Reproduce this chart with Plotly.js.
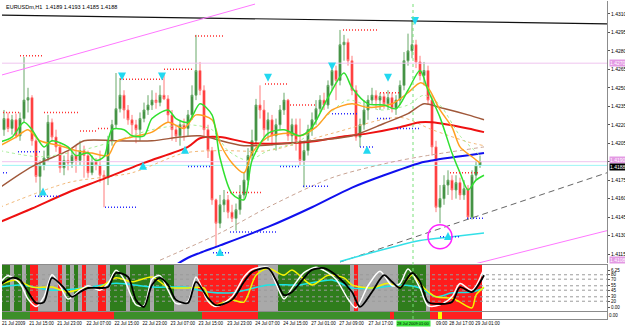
<!DOCTYPE html>
<html><head><meta charset="utf-8">
<script src="https://cdn.plot.ly/plotly-3.0.1.min.js"></script>
<style>html,body{margin:0;padding:0;background:#fff;}#chart{width:625px;height:327px;}</style>
</head><body><div id="chart"></div>
<script>
// ---------- OHLC (H1 bars) ----------
const openP = [1.4216,1.4225,1.4217,1.4224,1.4211,1.4225,1.4240,1.4242,1.4207,1.4178,
1.4187,1.4193,1.4222,1.4210,1.4202,1.4185,1.4191,1.4189,1.4195,1.4191,
1.4199,1.4195,1.4181,1.4190,1.4187,1.4179,1.4177,1.4207,1.4220,1.4233,
1.4244,1.4232,1.4224,1.4220,1.4216,1.4225,1.4232,1.4236,1.4240,1.4238,
1.4244,1.4241,1.4228,1.4216,1.4211,1.4220,1.4217,1.4228,1.4244,1.4264,
1.4248,1.4216,1.4199,1.4159,1.4140,1.4155,1.4159,1.4149,1.4144,1.4151,
1.4163,1.4175,1.4195,1.4207,1.4236,1.4232,1.4216,1.4224,1.4211,1.4220,
1.4232,1.4240,1.4211,1.4220,1.4207,1.4191,1.4199,1.4216,1.4224,1.4233,
1.4240,1.4236,1.4252,1.4264,1.4256,1.4285,1.4287,1.4272,1.4248,1.4210,
1.4220,1.4232,1.4240,1.4244,1.4240,1.4243,1.4237,1.4242,1.4233,1.4240,
1.4252,1.4272,1.4280,1.4285,1.4271,1.4260,1.4264,1.4240,1.4202,1.4153,
1.4160,1.4171,1.4175,1.4167,1.4173,1.4163,1.4168,1.4145,1.4179,1.4187];
const highP = [1.4232,1.4230,1.4228,1.4229,1.4230,1.4275,1.4250,1.4244,1.4209,1.4191,
1.4199,1.4228,1.4225,1.4216,1.4205,1.4195,1.4199,1.4201,1.4203,1.4207,
1.4203,1.4199,1.4195,1.4193,1.4199,1.4183,1.4211,1.4224,1.4262,1.4258,
1.4248,1.4236,1.4228,1.4224,1.4230,1.4238,1.4244,1.4248,1.4246,1.4252,
1.4262,1.4244,1.4232,1.4220,1.4224,1.4225,1.4232,1.4252,1.4293,1.4271,
1.4252,1.4220,1.4202,1.4160,1.4163,1.4167,1.4163,1.4155,1.4156,1.4171,
1.4181,1.4201,1.4216,1.4241,1.4252,1.4240,1.4230,1.4228,1.4225,1.4236,
1.4246,1.4241,1.4225,1.4225,1.4225,1.4207,1.4220,1.4230,1.4240,1.4244,
1.4246,1.4256,1.4270,1.4268,1.4297,1.4293,1.4290,1.4276,1.4252,1.4225,
1.4240,1.4244,1.4250,1.4248,1.4246,1.4246,1.4248,1.4246,1.4244,1.4256,
1.4279,1.4294,1.4305,1.4289,1.4276,1.4271,1.4268,1.4244,1.4207,1.4171,
1.4179,1.4183,1.4179,1.4179,1.4177,1.4175,1.4171,1.4183,1.4191,1.4195];
const lowP = [1.4211,1.4214,1.4212,1.4209,1.4207,1.4222,1.4230,1.4203,1.4173,1.4161,
1.4183,1.4190,1.4206,1.4198,1.4181,1.4179,1.4183,1.4185,1.4181,1.4187,
1.4177,1.4177,1.4179,1.4183,1.4173,1.4153,1.4171,1.4203,1.4217,1.4230,
1.4225,1.4220,1.4211,1.4205,1.4207,1.4222,1.4228,1.4232,1.4233,1.4235,
1.4240,1.4222,1.4207,1.4206,1.4203,1.4207,1.4211,1.4224,1.4240,1.4244,
1.4211,1.4193,1.4155,1.4121,1.4136,1.4149,1.4144,1.4141,1.4134,1.4147,
1.4159,1.4171,1.4191,1.4203,1.4225,1.4210,1.4207,1.4203,1.4199,1.4216,
1.4228,1.4207,1.4203,1.4199,1.4187,1.4169,1.4195,1.4211,1.4220,1.4230,
1.4232,1.4233,1.4248,1.4240,1.4252,1.4272,1.4268,1.4244,1.4207,1.4202,
1.4216,1.4224,1.4236,1.4233,1.4232,1.4233,1.4232,1.4230,1.4228,1.4236,
1.4248,1.4268,1.4274,1.4266,1.4256,1.4252,1.4236,1.4195,1.4149,1.4140,
1.4155,1.4163,1.4159,1.4160,1.4159,1.4159,1.4143,1.4143,1.4175,1.4185];
const closeP = [1.4225,1.4217,1.4224,1.4211,1.4225,1.4240,1.4242,1.4207,1.4178,1.4187,
1.4193,1.4222,1.4210,1.4202,1.4185,1.4191,1.4189,1.4195,1.4191,1.4199,
1.4195,1.4181,1.4190,1.4187,1.4179,1.4177,1.4207,1.4220,1.4233,1.4244,
1.4232,1.4224,1.4220,1.4216,1.4225,1.4232,1.4236,1.4240,1.4238,1.4244,
1.4241,1.4228,1.4216,1.4211,1.4220,1.4217,1.4228,1.4244,1.4264,1.4248,
1.4216,1.4199,1.4159,1.4140,1.4155,1.4159,1.4149,1.4144,1.4151,1.4163,
1.4175,1.4195,1.4207,1.4236,1.4232,1.4216,1.4224,1.4211,1.4220,1.4232,
1.4240,1.4211,1.4220,1.4207,1.4191,1.4199,1.4216,1.4224,1.4233,1.4240,
1.4236,1.4252,1.4264,1.4256,1.4285,1.4287,1.4272,1.4248,1.4210,1.4220,
1.4232,1.4240,1.4244,1.4240,1.4243,1.4237,1.4242,1.4233,1.4240,1.4252,
1.4272,1.4280,1.4285,1.4271,1.4260,1.4264,1.4240,1.4202,1.4153,1.4160,
1.4171,1.4175,1.4167,1.4173,1.4163,1.4168,1.4145,1.4179,1.4187,1.4190];

// ---------- moving averages ----------
const redIdx = [-1,7,16,24,35,46,49,54,62,76,84,91,99,104,107,116,120];
const redVal = [1.4141,1.4152,1.4165,1.4175,1.4189,1.4202,1.4209,1.4210,1.4205,1.4206,1.4210,1.4213,1.4218,1.4222,1.4222,1.4217,1.4214];
const brownIdx = [-1,7,16,20,28,37,44,49,60,74,87,95,101,105,109,116,120];
const brownVal = [1.4169,1.4186,1.4199,1.4207,1.4207,1.4207,1.4210,1.4211,1.4203,1.4206,1.4211,1.4221,1.4229,1.4237,1.4234,1.4228,1.4224];
const blueIdx = [40,46,49,54,66,77,87,95,104,107,120];
const blueVal = [1.4100,1.4112,1.4116,1.4122,1.4137,1.4153,1.4169,1.4179,1.4189,1.4191,1.4197];
const orangeIdx = [-1,3,6,9,14,18,22,26,28,32,37,41,45,48,52,54,57,60,62,66,71,74,78,82,87,91,97,101,104,106,109,112,114,117,119];
const orangeVal = [1.4203,1.4210,1.4216,1.4207,1.4203,1.4199,1.4197,1.4195,1.4206,1.4210,1.4214,1.4222,1.4217,1.4228,1.4224,1.4205,1.4189,1.4181,1.4197,1.4210,1.4213,1.4211,1.4218,1.4232,1.4237,1.4234,1.4237,1.4246,1.4254,1.4250,1.4232,1.4218,1.4202,1.4194,1.4189];
const greenIdx = [-1,2,5,7,10,12,16,18,21,23,25,27,30,32,35,37,41,43,46,49,52,54,57,60,62,66,70,74,77,81,85,87,91,95,98,101,104,106,109,112,114,116,118,120];
const greenVal = [1.4206,1.4210,1.4222,1.4216,1.4202,1.4207,1.4202,1.4195,1.4197,1.4191,1.4194,1.4216,1.4216,1.4211,1.4211,1.4225,1.4232,1.4225,1.4222,1.4237,1.4228,1.4193,1.4164,1.4159,1.4191,1.4213,1.4216,1.4211,1.4218,1.4242,1.4262,1.4250,1.4237,1.4236,1.4233,1.4248,1.4264,1.4248,1.4226,1.4197,1.4181,1.4167,1.4175,1.4179];
const limeIdx = [-1,9,19,27,37,46,52,56,61,66,74,81,86,94,101,105,109,114,119];
const limeVal = [1.4199,1.4194,1.4199,1.4206,1.4216,1.4220,1.4216,1.4199,1.4191,1.4199,1.4207,1.4228,1.4240,1.4232,1.4236,1.4244,1.4236,1.4211,1.4195];
const tanIdx = [-1,16,32,45,54,66,82,99,107,116,120];
const tanVal = [1.4153,1.4173,1.4181,1.4197,1.4199,1.4199,1.4213,1.4226,1.4216,1.4206,1.4203];
const rosyIdx = [39,54,66,82,96,104,120];
const rosyVal = [1.4110,1.4132,1.4153,1.4177,1.4189,1.4194,1.4202];

// ---------- drawn lines ----------
const grayTrendIdx = [84,150.75];  const grayTrendVal = [1.41085,1.4181];
const cyanLineIdx = [84,104,112,120]; const cyanLineVal = [1.4109,1.4126,1.4129,1.4132];
const pinkTopIdx = [-1,62.75];     const pinkTopVal = [1.4260,1.4318];
const pinkBotIdx = [116.5,150.75]; const pinkBotVal = [1.4106,1.4134];
const blackTopIdx = [-1,150.75];   const blackTopVal = [1.4309,1.4302];
const hLevelVal = [1.4270,1.4190,1.4187];
const hLevelColor = ['#efc4ef','#efc4ef','#9ff5f5'];

// ---------- fractal levels ----------
const redFracStart = [-0.25,4,10,19,23.5,29,40,47.75,55.75,65.25,71.5,84.75,94,111.5];
const redFracEnd   = [4,9.75,18.5,23.25,26.5,39.75,47.25,55.25,64.75,71,78.25,93.25,99,119];
const redFracPrice = [1.4230,1.4276,1.4230,1.4215,1.4217,1.4257,1.4265,1.4292,1.4165,1.4253,1.4236,1.4297,1.4246,1.4181];
const blueFracStart = [-1,3.5,7.75,25.25,46,52.25,56.5,69,74.75,82,89,93.25,98.25,109,115.75];
const blueFracEnd   = [0.75,9,14.5,33.5,52,56.5,68.5,74,81.5,88.25,92.25,97,104,114,119.75];
const blueFracPrice = [1.4181,1.4198,1.4162,1.4153,1.4186,1.4116,1.4133,1.4186,1.4170,1.4229,1.4202,1.4225,1.4217,1.4129,1.4144];

// ---------- arrows ----------
const upArrIdx = [9.75,34.75,45.25,54,90.75,111];
const upArrVal = [1.4169,1.4190,1.4203,1.4120,1.4203,1.4133];
const dnArrIdx = [29.5,39.5,66,82,96,102.75];
const dnArrVal = [1.4256,1.4256,1.4255,1.4264,1.4255,1.4301];
const circleIdx = [109]; const circleVal = [1.4129];

// ---------- oscillator panel ----------
const panelState = "ggsggsgrrsssssrsgsgsrsssrrsggggsgggggsgggggssssssrrrrrrrrrrrrrrrsssssggggggggggggggggggsrssssssssssgggggggsrrrrrrrrrrrrr".split("");
const stripState = "gggggggrrrrrrrrrrrrrrrrrrrrrggggggggggggggggggggggrrrrrrrrrrrrrrgggggggggggggggggggggggggggggggggrgggggggggrryrrrrrrrrrr".split("");
const oscBlackIdx = [-1,2,4,6,8,10,12,15,17,19,21,24,26,28,31,33,35,37,39,41,43,46,48,51,53,57,60,62,66,68,70,72,75,77,80,83,87,89,92,95,97,99,102,104,106,108,112,114,117,120];
const oscBlackVal = [57,73,68,41,16,18,73,50,30,41,50,50,52,84,75,23,7,57,73,57,23,16,64,27,11,23,64,86,95,68,34,41,73,91,95,79,41,7,41,79,64,50,84,64,18,14,18,52,41,79];
const oscWhiteIdx = [-1,1,4,6,8,10,12,14,16,19,21,24,26,28,30,33,35,37,39,41,43,46,48,51,53,57,60,62,66,68,70,72,75,78,80,83,86,88,91,94,97,99,101,104,106,109,112,114,117,120];
const oscWhiteVal = [62,78,60,25,8,30,80,55,25,45,55,45,60,90,70,12,10,70,78,45,15,20,75,20,8,30,75,92,97,60,25,50,85,97,90,70,25,5,55,88,55,60,93,50,10,12,30,60,45,95];
const oscYellowIdx = [-1,3,7,12,16,20,24,28,32,37,41,46,50,52,57,60,63,66,70,72,77,81,85,87,92,96,99,102,105,108,112,114,117,118,120];
const oscYellowVal = [57,68,52,52,41,50,52,73,64,75,52,50,50,11,23,18,79,95,79,91,57,79,73,57,50,61,52,79,50,30,27,18,5,34,52];
const oscCyanIdx = [-1,4,12,20,28,37,45,51,57,66,74,82,87,93,99,104,108,112,117,120];
const oscCyanVal = [52,57,45,50,61,52,52,41,39,57,57,68,50,50,57,50,30,39,41,50];
const oscLevels = [80,70,55,45,30,20];
const oscTickVal = [90,80,70,55,45,30,20,5];
const oscTickText = ['6.25','80','70','55','45','30','20','0.00'];

// ---------- axis labels ----------
const priceTicks = [1.4115,1.4130,1.4145,1.4160,1.4175,1.4190,1.4205,1.4220,1.4235,1.4250,1.4265,1.4280,1.4295,1.4310];
const dateIdx = [2.4,9.4,16.4,23.7,30.7,37.7,44.7,51.7,58.9,65.9,72.9,79.9,86.9,94.2,109.4,114.4,120.9];
const dateText = ['21 Jul 2009','21 Jul 15:00','21 Jul 23:00','22 Jul 07:00','22 Jul 15:00','22 Jul 23:00','23 Jul 07:00','23 Jul 15:00','23 Jul 23:00','24 Jul 07:00','24 Jul 15:00','27 Jul 01:00','27 Jul 09:00','27 Jul 17:00','09:00','28 Jul 17:00','29 Jul 01:00'];
const titleText = 'EURUSDm,H1  1.4189 1.4193 1.4185 1.4188';

// ================= build =================
const barIdx = closeP.map((_, i) => i);
const stateColor = {g:'#2f7d1c', s:'#a9a9a9', r:'#ff1c1c', y:'#ffff00'};
const stripColor = {g:'#3d8f2a', r:'#ff2020', y:'#ffff00'};

function line(x, y, color, width, dash, shape, xa, ya) {
  return {type:'scatter', mode:'lines', x:x, y:y, xaxis:xa||'x', yaxis:ya||'y',
    line:{color:color, width:width, dash:dash||'solid', shape:shape||'linear', smoothing:0.8},
    hoverinfo:'skip'};
}
function segs(s, e, p) {
  const x = [], y = [];
  for (let k = 0; k < s.length; k++) { x.push(s[k], e[k], null); y.push(p[k], p[k], null); }
  return {x, y};
}

const traces = [];
// oscillator background stripes
traces.push({type:'bar', x:barIdx, y:barIdx.map(() => 104.6), base:-2.3, xaxis:'x2', yaxis:'y2',
  marker:{color:panelState.map(s => stateColor[s]), line:{width:0}}, width:0.82, hoverinfo:'skip'});
oscLevels.forEach(v => traces.push(line([-1,151],[v,v],'#9a9a9a',1,'dot','linear','x2','y2')));
traces.push(line(oscCyanIdx, oscCyanVal, '#19e6e6', 1.5, 'solid', 'spline', 'x2', 'y2'));
traces.push(line(oscYellowIdx, oscYellowVal, '#f5f500', 1.5, 'solid', 'spline', 'x2', 'y2'));
traces.push(line(oscWhiteIdx, oscWhiteVal, '#ffffff', 1.5, 'solid', 'spline', 'x2', 'y2'));
traces.push(line(oscBlackIdx, oscBlackVal, '#000000', 1.8, 'solid', 'spline', 'x2', 'y2'));
// bottom strip
traces.push({type:'bar', x:barIdx, y:barIdx.map(() => 1), xaxis:'x3', yaxis:'y3',
  marker:{color:stripState.map(s => stripColor[s]), line:{width:0}}, width:0.82, hoverinfo:'skip'});

// main panel: horizontal levels and drawn lines
hLevelVal.forEach((v, k) => traces.push(line([-1,151],[v,v],hLevelColor[k],1)));
traces.push(line(blackTopIdx, blackTopVal, '#111111', 1.2));
traces.push(line(pinkTopIdx, pinkTopVal, '#ff77ff', 1));
traces.push(line(pinkBotIdx, pinkBotVal, '#ff77ff', 1));
traces.push(line(grayTrendIdx, grayTrendVal, '#666666', 1, '6px,4px'));
traces.push(line(cyanLineIdx, cyanLineVal, '#33e0e8', 1.5, 'solid', 'spline'));

// candles
traces.push({type:'candlestick', x:barIdx, open:openP, high:highP, low:lowP, close:closeP,
  xaxis:'x', yaxis:'y', whiskerwidth:0,
  increasing:{line:{color:'#68a868', width:1}, fillcolor:'#1c7a1c'},
  decreasing:{line:{color:'#ff7a7a', width:1}, fillcolor:'#ff0000'},
  hoverinfo:'skip'});

// moving averages
traces.push(line(rosyIdx, rosyVal, '#c9a494', 1, '4px,3px', 'spline'));
traces.push(line(tanIdx, tanVal, '#f2b878', 1, 'dot', 'spline'));
traces.push(line(blueIdx, blueVal, '#1010ee', 2, 'solid', 'spline'));
traces.push(line(redIdx, redVal, '#ee1111', 2, 'solid', 'spline'));
traces.push(line(brownIdx, brownVal, '#a0583a', 1.5, 'solid', 'spline'));
traces.push(line(limeIdx, limeVal, '#a8ee98', 1, 'dot', 'spline'));
traces.push(line(orangeIdx, orangeVal, '#ffa020', 1.5, 'solid', 'spline'));
traces.push(line(greenIdx, greenVal, '#30e030', 1.5, 'solid', 'spline'));

// fractal levels
const rf = segs(redFracStart, redFracEnd, redFracPrice);
traces.push(line(rf.x, rf.y, '#ff3030', 1.5, '1px,2px'));
const bf = segs(blueFracStart, blueFracEnd, blueFracPrice);
traces.push(line(bf.x, bf.y, '#2a2aff', 1.5, '1px,2px'));

// arrows & circle
traces.push({type:'scatter', mode:'markers', x:upArrIdx, y:upArrVal, xaxis:'x', yaxis:'y',
  marker:{symbol:'arrow-up', size:8, color:'#22d8f0', line:{width:0}}, hoverinfo:'skip'});
traces.push({type:'scatter', mode:'markers', x:dnArrIdx, y:dnArrVal, xaxis:'x', yaxis:'y',
  marker:{symbol:'arrow-down', size:8, color:'#22d8f0', line:{width:0}}, hoverinfo:'skip'});
traces.push({type:'scatter', mode:'markers', x:circleIdx, y:circleVal, xaxis:'x', yaxis:'y',
  marker:{symbol:'circle-open', size:24, color:'#ff22ff', line:{width:1.5, color:'#ff22ff'}}, hoverinfo:'skip'});

const fnt = 'Liberation Sans, Arial, sans-serif';
const xRange = [-0.5, 150.75];
const layout = {
  width:625, height:327,
  margin:{l:2, r:18, t:1, b:8},
  paper_bgcolor:'#ffffff', plot_bgcolor:'#ffffff',
  showlegend:false, bargap:0,
  font:{family:fnt, size:5, color:'#000'},
  xaxis:{anchor:'y', range:xRange, showticklabels:false, showgrid:false, zeroline:false,
    rangeslider:{visible:false}, showline:false, fixedrange:true},
  xaxis2:{anchor:'y2', matches:'x', range:xRange, showticklabels:false, showgrid:false, zeroline:false,
    showline:true, mirror:true, linecolor:'#8c8c8c', linewidth:1},
  xaxis3:{anchor:'y3', matches:'x', range:xRange, showgrid:false, zeroline:false,
    tickvals:dateIdx, ticktext:dateText, ticks:'', tickangle:0,
    tickfont:{family:fnt, size:4.5, color:'#000'},
    showline:true, mirror:true, linecolor:'#8c8c8c', linewidth:1},
  yaxis:{domain:[0.176,1], range:[1.41077,1.43205], side:'right', tickvals:priceTicks, tickformat:'.4f',
    ticks:'outside', ticklen:2, tickcolor:'#555', showgrid:false, zeroline:false,
    showline:true, linecolor:'#8c8c8c', linewidth:1, tickfont:{family:fnt, size:5, color:'#000'}},
  yaxis2:{domain:[0.025,0.170], range:[-2.3,102.3], side:'right', tickvals:oscTickVal, ticktext:oscTickText,
    ticks:'outside', ticklen:2, tickcolor:'#555', showgrid:false, zeroline:false,
    showline:true, linecolor:'#8c8c8c', linewidth:1, tickfont:{family:fnt, size:4.5, color:'#000'}},
  yaxis3:{domain:[0,0.022], range:[0,1], side:'right', tickvals:[0.5], ticktext:['0.00'],
    ticks:'', showgrid:false, zeroline:false, showline:true, linecolor:'#8c8c8c',
    tickfont:{family:fnt, size:4.5, color:'#000'}},
  shapes:[
    {type:'line', xref:'x', yref:'paper', x0:102.25, x1:102.25, y0:0, y1:1,
     line:{color:'#78e078', width:1, dash:'dot'}}
  ],
  annotations:[
    {xref:'paper', yref:'paper', x:0.004, y:0.998, xanchor:'left', yanchor:'top', showarrow:false,
     text:titleText, font:{family:fnt, size:5.5, color:'#000'}},
    {xref:'paper', yref:'y', x:1.003, y:1.4270, xanchor:'left', yanchor:'middle', showarrow:false,
     text:'1.4270', bgcolor:'#e49ae4', borderpad:0, font:{family:fnt, size:5, color:'#ffffff'}},
    {xref:'paper', yref:'y', x:1.003, y:1.4191, xanchor:'left', yanchor:'middle', showarrow:false,
     text:'1.4190', bgcolor:'#e49ae4', borderpad:0, font:{family:fnt, size:5, color:'#ffffff'}},
    {xref:'paper', yref:'y', x:1.003, y:1.4186, xanchor:'left', yanchor:'middle', showarrow:false,
     text:'1.4188', bgcolor:'#000000', borderpad:0, font:{family:fnt, size:5, color:'#ffffff'}},
    {xref:'paper', yref:'y', x:1.003, y:1.4110, xanchor:'left', yanchor:'middle', showarrow:false,
     text:'1.4108', bgcolor:'#e49ae4', borderpad:0, font:{family:fnt, size:5, color:'#ffffff'}},
    {xref:'x3', yref:'paper', x:98, y:-0.004, xanchor:'left', yanchor:'top', showarrow:false,
     text:'28 Jul 2009 01:00', bgcolor:'#3ce63c', borderpad:0, font:{family:fnt, size:4, color:'#000'}}
  ]
};

Plotly.newPlot('chart', traces, layout, {staticPlot:true, displayModeBar:false});
</script></body></html>
